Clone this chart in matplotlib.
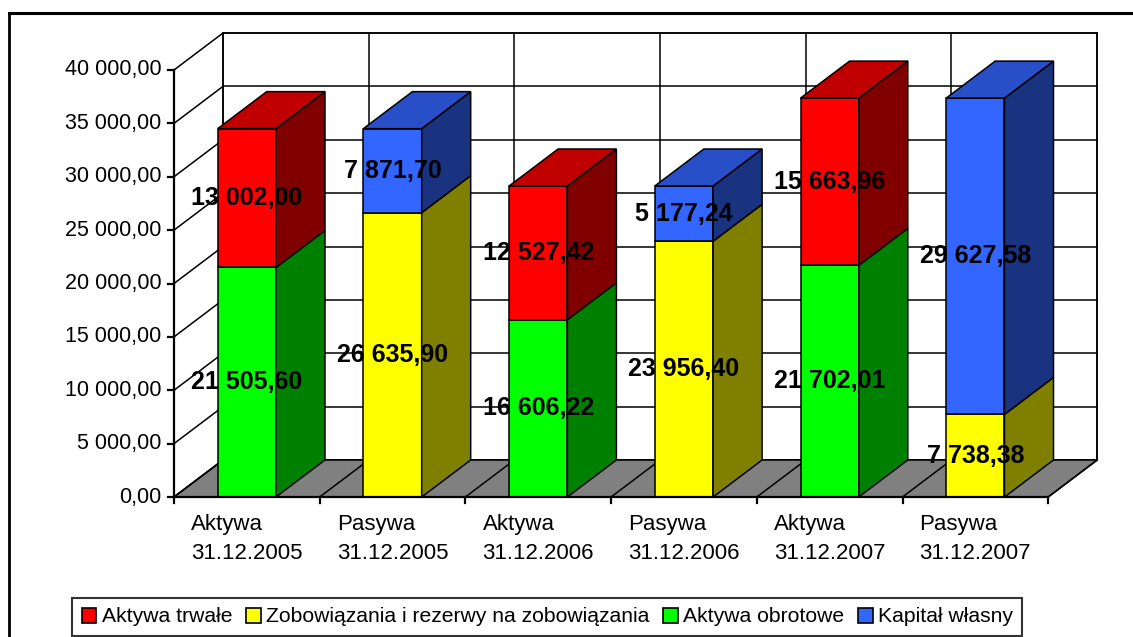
import matplotlib
matplotlib.use("Agg")
import matplotlib.pyplot as plt
from matplotlib.patches import Polygon, Patch
from matplotlib.lines import Line2D

plt.rcParams["font.family"] = ["Liberation Sans", "DejaVu Sans"]

# data
categories = [
    "Aktywa\n31.12.2005", "Pasywa\n31.12.2005",
    "Aktywa\n31.12.2006", "Pasywa\n31.12.2006",
    "Aktywa\n31.12.2007", "Pasywa\n31.12.2007",
]
bottom_values = [21505.60, 26635.90, 16606.22, 23956.40, 21702.01, 7738.38]
top_values = [13002.00, 7871.70, 12527.42, 5177.24, 15663.96, 29627.58]
# which series each bar belongs to: aktywa (green + red) or pasywa (yellow + blue)
bar_kind = ["A", "P", "A", "P", "A", "P"]
y_ticks = [0, 5000, 10000, 15000, 20000, 25000, 30000, 35000, 40000]

series_names = [
    "Aktywa trwałe",
    "Zobowiązania i rezerwy na zobowiązania",
    "Aktywa obrotowe",
    "Kapitał własny",
]

# colours: front, side, top
RED = ("#ff0000", "#800000", "#c00000")
YELLOW = ("#ffff00", "#808000", "#c0c000")
GREEN = ("#00ff00", "#008000", "#00c000")
BLUE = ("#3366ff", "#1a3380", "#294fc8")
colours = {"A": (GREEN, RED), "P": (YELLOW, BLUE)}

# layout (pixels of the 1133x637 picture)
W, H = 1133, 637
X0, Y0 = 174, 497          # front origin of plot
CAT_PX = 145.7             # px per category
VAL_PX = 0.010675          # px per unit value
DEPTH_PX = (49, 37)

DX = DEPTH_PX[0] / CAT_PX
DY = DEPTH_PX[1] / VAL_PX
YMAX = y_ticks[-1]
N = len(categories)
BAR_W = 0.4

fig = plt.figure(figsize=(W / 100, H / 100), dpi=100)
ax = fig.add_axes([0, 0, 1, 1])
ax.set_xlim(-X0 / CAT_PX, (W - X0) / CAT_PX)
ax.set_ylim(-(H - Y0) / VAL_PX, Y0 / VAL_PX)
ax.axis("off")

LW = 1.1

def poly(pts, fc, z):
    ax.add_patch(Polygon(pts, closed=True, facecolor=fc, edgecolor="black",
                         lw=LW, zorder=z, joinstyle="miter"))

# back wall
poly([(DX, DY), (N + DX, DY), (N + DX, YMAX + DY), (DX, YMAX + DY)], "white", 1)
for v in y_ticks:
    ax.plot([DX, N + DX], [v + DY, v + DY], color="black", lw=LW, zorder=2)
    ax.plot([0, DX], [v, v + DY], color="black", lw=LW, zorder=2)
for k in range(N + 1):
    ax.plot([k + DX, k + DX], [DY, YMAX + DY], color="black", lw=LW, zorder=2)

# floor
poly([(0, 0), (N, 0), (N + DX, DY), (DX, DY)], "#808080", 3)
for k in range(N + 1):
    ax.plot([k, k + DX], [0, DY], color="black", lw=LW, zorder=3.5)

def fmt(v):
    return f"{v:,.2f}".replace(",", " ").replace(".", ",")

# bars
for i in range(N):
    x0 = i + 0.5 - BAR_W / 2
    x1 = x0 + BAR_W
    low_c, high_c = colours[bar_kind[i]]
    segs = [(0, bottom_values[i], low_c),
            (bottom_values[i], bottom_values[i] + top_values[i], high_c)]
    for j, (b, t, c) in enumerate(segs):
        poly([(x0, b), (x1, b), (x1, t), (x0, t)], c[0], 5)
        poly([(x1, b), (x1 + DX, b + DY), (x1 + DX, t + DY), (x1, t)], c[1], 5)
        if j == len(segs) - 1:
            poly([(x0, t), (x1, t), (x1 + DX, t + DY), (x0 + DX, t + DY)], c[2], 5)
        ax.text(i + 0.5, (b + t) / 2, fmt(t - b), ha="center", va="center",
                fontsize=18, fontweight="bold", color="black", zorder=10)

# axes lines and ticks
ax.plot([0, 0], [0, YMAX], color="black", lw=1.6, zorder=6, solid_capstyle="projecting")
ax.plot([0, N], [0, 0], color="black", lw=1.6, zorder=6, solid_capstyle="projecting")
tick_x = 6 / CAT_PX
tick_y = 6 / VAL_PX
for v in y_ticks:
    ax.plot([-tick_x, 0], [v, v], color="black", lw=1.6, zorder=6)
    ax.annotate(fmt(v), (0, v), xytext=(-9, 0), textcoords="offset points",
                ha="right", va="center", fontsize=15.5)
for k in range(N + 1):
    ax.plot([k, k], [0, -tick_y], color="black", lw=1.6, zorder=6)
for i, lab in enumerate(categories):
    ax.annotate(lab, (i + 0.5, 0), xytext=(0, -30.5), textcoords="offset points",
                ha="center", va="center", multialignment="left",
                linespacing=1.5, fontsize=16)

# legend
handles = [Patch(facecolor=c[0], edgecolor="black", lw=1.2)
           for c in (RED, YELLOW, GREEN, BLUE)]
leg = fig.legend(handles, series_names, loc="lower left",
                 bbox_to_anchor=(72 / W, 1 - 636 / H), ncol=4, fontsize=15.2,
                 frameon=True, fancybox=False, shadow=False,
                 handlelength=0.7, handleheight=0.7, handletextpad=0.25,
                 columnspacing=0.65, borderpad=0.45, borderaxespad=0)
leg.get_frame().set_edgecolor("black")
leg.get_frame().set_linewidth(1.5)

# chart border (cropped on the right and bottom)
fig.add_artist(Line2D([8.5 / W, 8.5 / W], [0, 1 - 13 / H], transform=fig.transFigure,
                      color="black", lw=2))
fig.add_artist(Line2D([8.5 / W, 1], [1 - 13 / H, 1 - 13 / H], transform=fig.transFigure,
                      color="black", lw=2.2))

fig.savefig("out.png", dpi=100)
